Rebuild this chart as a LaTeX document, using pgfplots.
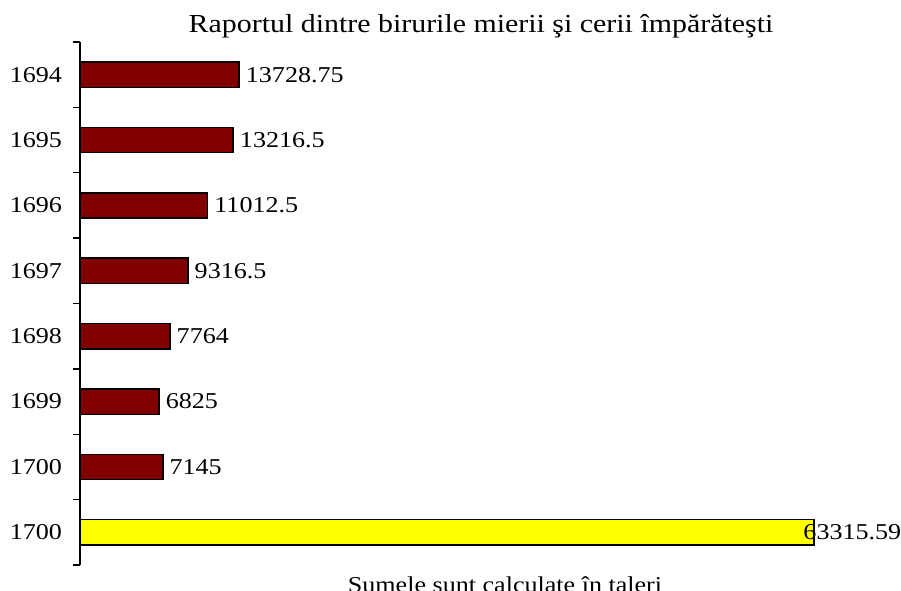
\documentclass[border=0pt]{standalone}
\usepackage{fontspec}
\setmainfont{Liberation Serif}[FakeStretch=1.15]
\usepackage{pgfplots}
\pgfplotsset{compat=1.18}
\definecolor{barred}{HTML}{800000}
\definecolor{baryel}{HTML}{FFFF00}
\newcommand{\myfs}{\fontsize{17}{20}\selectfont}
\newcommand{\mytfs}{\fontsize{19.5}{23}\selectfont}
\begin{document}
\begin{tikzpicture}
\useasboundingbox (0,0) rectangle (675.75pt,442.5pt);
\clip (0,0) rectangle (675.75pt,442.5pt);
\begin{axis}[
  at={(60pt,18.75pt)}, anchor=south west,
  scale only axis, width=600pt, height=392.25pt,
  xbar, bar shift=0pt, bar width=19pt,
  xmin=0, xmax=69000,
  ymin=-0.5, ymax=7.5, y dir=reverse,
  axis x line=none,
  axis y line*=left,
  axis line style={line width=1.1pt, black},
  ytick={0,1,2,3,4,5,6,7},
  yticklabels={1694,1695,1696,1697,1698,1699,1700,1700},
  major tick length=0pt,
  minor ytick={-0.5,0.5,1.5,2.5,3.5,4.5,5.5,6.5,7.5},
  minor tick length=5.5pt,
  tick align=outside,
  minor tick style={line width=1.1pt, black},
  yticklabel style={font=\myfs, xshift=-10pt},
  point meta=explicit symbolic,
  nodes near coords={\pgfplotspointmeta},
  nodes near coords style={font=\myfs, anchor=west, inner sep=1.5pt, xshift=3pt},
  clip=false,
]
\addplot[fill=barred, draw=black, line width=1.1pt] coordinates {
  (13728.75,0) [13728.75]
  (13216.5,1) [13216.5]
  (11012.5,2) [11012.5]
  (9316.5,3) [9316.5]
  (7764,4) [7764]
  (6825,5) [6825]
  (7145,6) [7145]
};
\addplot[fill=baryel, draw=black, line width=1.1pt,
  nodes near coords style={xshift=-13pt}] coordinates {
  (63315.59,7) [63315.59]
};
\end{axis}
\node[anchor=base, font=\mytfs] at (360.75pt,417.75pt) {Raportul dintre birurile mierii şi cerii împărăteşti};
\node[anchor=base, font=\myfs] at (378.75pt,-2pt) {Sumele sunt calculate în taleri};
\end{tikzpicture}
\end{document}
